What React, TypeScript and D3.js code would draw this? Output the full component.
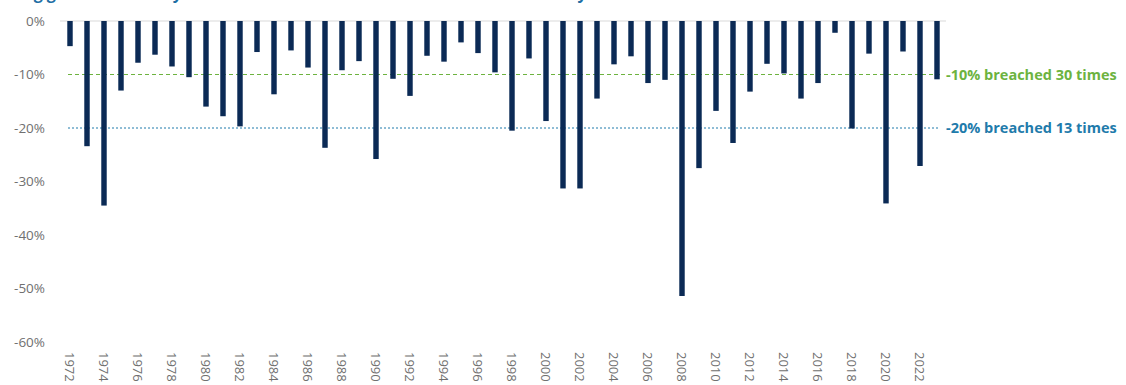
import React, { useEffect, useRef } from "react";
import * as d3 from "d3";

// Maximum intra-year decline per year, in percent
const years: number[] = d3.range(1972, 2024);
const declines: number[] = [
  -4.7, -23.4, -34.5, -13.0, -7.8, -6.3, -8.5, -10.5, -16.0, -17.8,
  -19.7, -5.8, -13.7, -5.5, -8.7, -23.7, -9.2, -7.5, -25.8, -10.8,
  -14.0, -6.5, -7.6, -4.0, -6.0, -9.6, -20.5, -7.0, -18.7, -31.3,
  -31.3, -14.5, -8.1, -6.6, -11.6, -11.0, -51.4, -27.5, -16.8, -22.8,
  -13.2, -8.0, -9.8, -14.5, -11.6, -2.2, -20.1, -6.1, -34.1, -5.7,
  -27.1, -10.9,
];
const yTicks: number[] = [0, -10, -20, -30, -40, -50, -60];
const thresholds = [
  { value: -10, label: "-10% breached 30 times", color: "#6db33f", dash: "4,3" },
  { value: -20, label: "-20% breached 13 times", color: "#1f7bab", dash: "2,2" },
];
const title = "Biggest intra-year declines in the S&P 500 each year since 1972";

const W = 1126;
const H = 385;

const App = () => {
  const svgRef = useRef<SVGSVGElement>(null);

  useEffect(() => {
    const svg = d3.select(svgRef.current);
    svg.selectAll("*").remove();

    const font = "'Open Sans', sans-serif";
    const x = d3
      .scaleBand<number>()
      .domain(years)
      .range([61.5, 61.5 + 17 * years.length])
      .paddingInner(0.68)
      .paddingOuter(0.34);
    const y = d3.scaleLinear().domain([0, -60]).range([21, 342]);

    // title, cut off at the top edge as in the source image
    svg
      .append("text")
      .attr("x", 10)
      .attr("y", -1)
      .attr("textLength", 745)
      .attr("font-family", font)
      .attr("font-weight", 700)
      .attr("font-size", 16)
      .attr("fill", "#1f6fa5")
      .text(title);

    // y axis labels
    svg
      .append("g")
      .selectAll("text")
      .data(yTicks)
      .enter()
      .append("text")
      .attr("x", 45)
      .attr("y", (d) => y(d))
      .attr("dy", "0.35em")
      .attr("text-anchor", "end")
      .attr("font-family", font)
      .attr("font-size", 13.5)
      .attr("fill", "#707070")
      .text((d) => `${d}%`);

    // zero line
    svg
      .append("line")
      .attr("x1", 60)
      .attr("x2", 946)
      .attr("y1", y(0))
      .attr("y2", y(0))
      .attr("stroke", "#d9d9d9")
      .attr("stroke-width", 1);

    // threshold lines
    svg
      .append("g")
      .selectAll("line")
      .data(thresholds)
      .enter()
      .append("line")
      .attr("x1", 68)
      .attr("x2", 940)
      .attr("y1", (d) => y(d.value))
      .attr("y2", (d) => y(d.value))
      .attr("stroke", (d) => d.color)
      .attr("stroke-width", 1)
      .attr("stroke-dasharray", (d) => d.dash);

    // bars
    svg
      .append("g")
      .selectAll("rect")
      .data(declines)
      .enter()
      .append("rect")
      .attr("x", (d, i) => x(years[i]) as number)
      .attr("y", y(0))
      .attr("width", x.bandwidth())
      .attr("height", (d) => y(d) - y(0))
      .attr("fill", "#0b2a55");

    // threshold labels
    svg
      .append("g")
      .selectAll("text")
      .data(thresholds)
      .enter()
      .append("text")
      .attr("x", 946)
      .attr("y", (d) => y(d.value))
      .attr("dy", "0.35em")
      .attr("font-family", font)
      .attr("font-weight", 700)
      .attr("font-size", 14.5)
      .attr("fill", (d) => d.color)
      .text((d) => d.label);

    // x axis labels, every other year, rotated
    svg
      .append("g")
      .selectAll("text")
      .data(years.filter((d, i) => i % 2 === 0))
      .enter()
      .append("text")
      .attr(
        "transform",
        (d) => `translate(${(x(d) as number) + x.bandwidth() / 2}, 352) rotate(90)`
      )
      .attr("dy", "0.35em")
      .attr("font-family", font)
      .attr("font-size", 13)
      .attr("fill", "#707070")
      .text((d) => d);
  }, []);

  return (
    <svg
      ref={svgRef}
      width={W}
      height={H}
      style={{ position: "fixed", left: 0, top: 0, background: "#fff" }}
    ></svg>
  );
};

export default App;
